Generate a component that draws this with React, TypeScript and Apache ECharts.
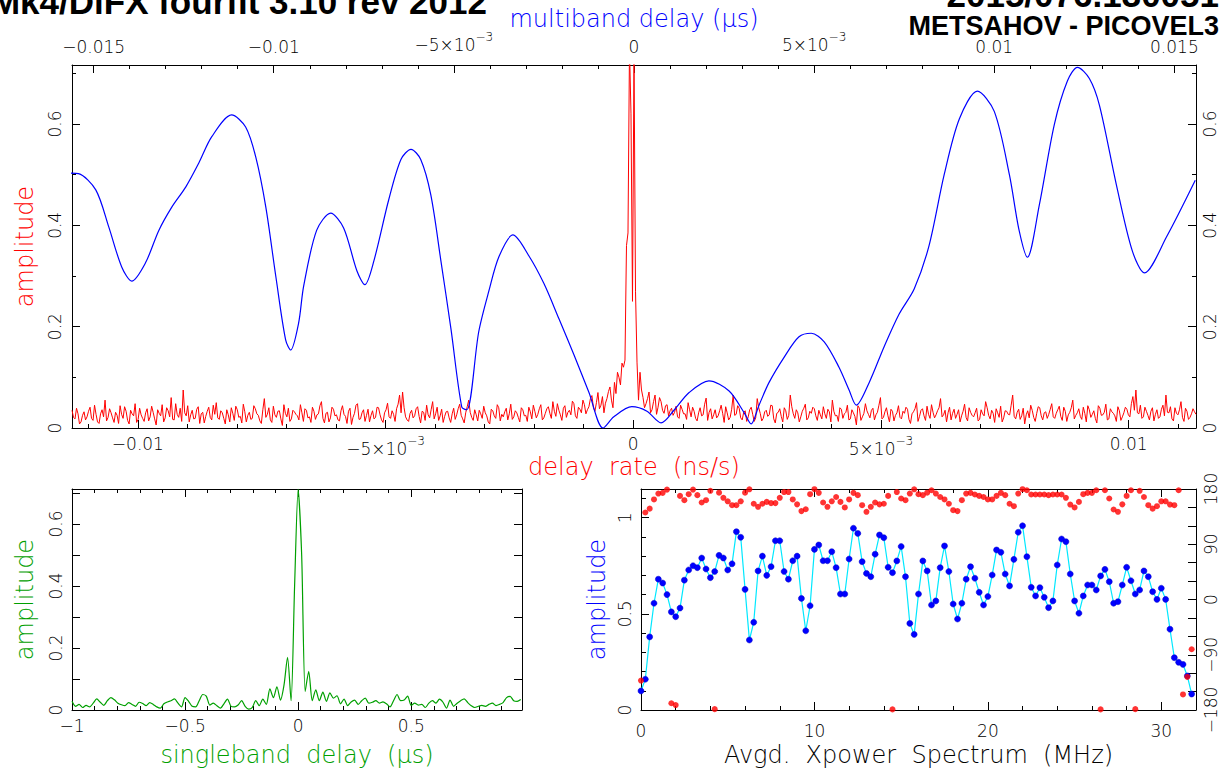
import React, { useEffect, useRef } from "react";
import * as echarts from "echarts";

const FONT = "DejaVu Sans";
const TITLE_FONT = '"Liberation Sans", Arial, sans-serif';
const RED = "#ff0000";
const BLUE = "#0000ff";
const GREEN = "#00a000";
const CYAN = "#00e8ff";
const LABEL_WEIGHT = 200;

const titleLeft = "Mk4/DiFX fourfit 3.10 rev 2012";
const titleRight1 = "2015/076.130051";
const titleRight2 = "METSAHOV - PICOVEL3";

// ---- top panel ranges ----
const RATE_MIN = -0.01133;
const RATE_MAX = 0.01136;
const MBD_MIN = -0.0156;
const MBD_MAX = 0.0156;
const TOP_AMP_MAX = 0.7165;

const rateLabels = [-0.01, -0.005, 0, 0.005, 0.01];
const mbdLabels = [-0.015, -0.01, -0.005, 0, 0.005, 0.01, 0.015];
const ampLabels = [0, 0.2, 0.4, 0.6];

// multiband delay (us) vs amplitude (blue)
const mbdDelay = [
  -0.01564, -0.01542, -0.01494, -0.01458, -0.01422, -0.01394, -0.01356, -0.01319, -0.01283, -0.01244,
  -0.01208, -0.01172, -0.01117, -0.01078, -0.0105, -0.01022, -0.00994, -0.00967, -0.00953, -0.00931,
  -0.00917, -0.00881, -0.00842, -0.00806, -0.00769, -0.00747, -0.00722, -0.00681, -0.00647, -0.00619,
  -0.00592, -0.00564, -0.00536, -0.00508, -0.00478, -0.00464, -0.00431, -0.00403, -0.00375, -0.00336,
  -0.00292, -0.0025, -0.00208, -0.00167, -0.00125, -0.00086, -0.00056, -0.00006, 0.00036, 0.00075,
  0.00111, 0.00153, 0.00208, 0.00264, 0.00306, 0.00325, 0.00347, 0.00375, 0.00417, 0.00458,
  0.00492, 0.00528, 0.00569, 0.00597, 0.00617, 0.00653, 0.00694, 0.00736, 0.00778, 0.00819,
  0.00861, 0.00903, 0.00953, 0.01, 0.01042, 0.01069, 0.01092, 0.01125, 0.01167, 0.01203,
  0.01231, 0.01264, 0.01292, 0.01339, 0.01383, 0.01417, 0.01478, 0.01558,
];
const mbdAmp = [
  0.503, 0.502, 0.47, 0.397, 0.318, 0.29, 0.326, 0.39, 0.436, 0.476,
  0.523, 0.575, 0.618, 0.594, 0.535, 0.436, 0.298, 0.174, 0.154, 0.207,
  0.28, 0.39, 0.424, 0.395, 0.31, 0.283, 0.33, 0.45, 0.53, 0.55,
  0.53, 0.46, 0.33, 0.195, 0.041, 0.036, 0.19, 0.27, 0.338, 0.381,
  0.34, 0.285, 0.215, 0.145, 0.07, 0.0, 0.022, 0.042, 0.033, 0.01,
  0.035, 0.07, 0.093, 0.073, 0.03, 0.008, 0.045, 0.09, 0.14, 0.18,
  0.187, 0.17, 0.12, 0.075, 0.045, 0.09, 0.16, 0.225, 0.275, 0.36,
  0.5, 0.61, 0.665, 0.625, 0.5, 0.39, 0.337, 0.44, 0.6, 0.685,
  0.712, 0.69, 0.637, 0.48, 0.35, 0.306, 0.377, 0.489,
];

// delay rate amplitude (red): samples on an even grid from RATE_MIN to RATE_MAX
const rateAmp = [
  0.035, 0.018, 0.028, 0.012, 0.032, 0.022, 0.041, 0.015, 0.027, 0.009, 0.036, 0.055, 0.021, 0.030, 0.011, 0.025, 0.044, 0.019, 0.033, 0.008, 0.028, 0.048, 0.017, 0.026, 0.013,
  0.038, 0.022, 0.031, 0.006, 0.029, 0.046, 0.020, 0.034, 0.060, 0.016, 0.027, 0.039, 0.075, 0.024, 0.012, 0.035, 0.019, 0.042, 0.028, 0.010, 0.033, 0.021, 0.045, 0.050, 0.017,
  0.030, 0.008, 0.026, 0.040, 0.015, 0.036, 0.023, 0.047, 0.012, 0.031, 0.019, 0.038, 0.025, 0.009, 0.058, 0.027, 0.016, 0.043, 0.021, 0.034, 0.005, 0.029, 0.039, 0.018, 0.032,
  0.024, 0.046, 0.013, 0.035, 0.022, 0.041, 0.017, 0.028, 0.052, 0.010, 0.031, 0.020, 0.037, 0.026, 0.014, 0.044, 0.023, 0.033, 0.007, 0.029, 0.048, 0.018, 0.036, 0.025, 0.012,
  0.034, 0.021, 0.040, 0.016, 0.030, 0.049, 0.019, 0.027, 0.038, 0.065, 0.071, 0.022, 0.013, 0.035, 0.024, 0.042, 0.010, 0.031, 0.045, 0.020, 0.052, 0.028, 0.015, 0.037, 0.023,
  0.033, 0.011, 0.039, 0.026, 0.047, 0.018, 0.030, 0.055, 0.021, 0.036, 0.014, 0.028, 0.043, 0.024, 0.008, 0.034, 0.019, 0.040, 0.027, 0.032, 0.016, 0.047, 0.022, 0.030, 0.012,
  0.036, 0.025, 0.041, 0.018, 0.033, 0.027, 0.046, 0.020, 0.038, 0.029, 0.052, 0.023, 0.035, 0.015, 0.044, 0.031, 0.026, 0.048, 0.019, 0.037, 0.055, 0.028, 0.042, 0.064, 0.033,
  0.070, 0.045, 0.030, 0.058, 0.081, 0.040, 0.068, 0.100, 0.128, 0.134, 0.385, 0.620, 0.740, 0.130, 0.110, 0.060, 0.048, 0.071, 0.036, 0.065, 0.041, 0.052, 0.029, 0.046, 0.034,
  0.025, 0.043, 0.019, 0.037, 0.028, 0.050, 0.022, 0.033, 0.014, 0.040, 0.026, 0.059, 0.031, 0.018, 0.036, 0.024, 0.045, 0.011, 0.030, 0.021, 0.065, 0.027, 0.039, 0.016, 0.034,
  0.022, 0.041, 0.013, 0.058, 0.029, 0.019, 0.035, 0.026, 0.044, 0.010, 0.031, 0.023, 0.040, 0.017, 0.065, 0.028, 0.036, 0.012, 0.033, 0.047, 0.020, 0.029, 0.038, 0.015, 0.026,
  0.042, 0.019, 0.032, 0.055, 0.024, 0.013, 0.037, 0.028, 0.045, 0.018, 0.030, 0.006, 0.039, 0.022, 0.048, 0.027, 0.035, 0.016, 0.031, 0.060, 0.021, 0.040, 0.012, 0.033, 0.025,
  0.044, 0.018, 0.029, 0.037, 0.009, 0.032, 0.050, 0.023, 0.038, 0.015, 0.027, 0.046, 0.020, 0.034, 0.058, 0.026, 0.012, 0.041, 0.029, 0.019, 0.036, 0.024, 0.047, 0.014, 0.031,
  0.022, 0.039, 0.017, 0.028, 0.052, 0.025, 0.035, 0.011, 0.030, 0.043, 0.020, 0.033, 0.026, 0.065, 0.018, 0.037, 0.024, 0.008, 0.034, 0.045, 0.021, 0.029, 0.040, 0.016, 0.032,
  0.027, 0.048, 0.019, 0.036, 0.023, 0.041, 0.013, 0.031, 0.055, 0.025, 0.038, 0.017, 0.029, 0.044, 0.021, 0.034, 0.010, 0.039, 0.026, 0.047, 0.018, 0.032, 0.024, 0.042, 0.015,
  0.030, 0.037, 0.022, 0.062, 0.075, 0.028, 0.019, 0.041, 0.025, 0.033, 0.014, 0.036, 0.022, 0.045, 0.065, 0.030, 0.018, 0.040, 0.026, 0.052, 0.013, 0.033, 0.021, 0.038, 0.027,
];
// delay rate amplitude (red): the samples lying halfway between those above
const rateAmpMid = [
  0.021, 0.039, 0.008, 0.025, 0.016, 0.033, 0.019, 0.045, 0.012, 0.028, 0.022, 0.014, 0.038, 0.020, 0.031, 0.009, 0.027, 0.042, 0.015, 0.035, 0.024, 0.011, 0.039, 0.019, 0.030,
  0.014, 0.043, 0.018, 0.036, 0.024, 0.012, 0.040, 0.022, 0.017, 0.048, 0.021, 0.013, 0.030, 0.044, 0.026, 0.018, 0.037, 0.009, 0.031, 0.023, 0.041, 0.016, 0.027, 0.020, 0.034,
  0.019, 0.036, 0.012, 0.029, 0.043, 0.021, 0.010, 0.032, 0.025, 0.017, 0.044, 0.028, 0.014, 0.036, 0.021, 0.040, 0.011, 0.026, 0.033, 0.018, 0.046, 0.022, 0.013, 0.035, 0.027,
  0.016, 0.030, 0.038, 0.020, 0.011, 0.033, 0.026, 0.044, 0.019, 0.029, 0.012, 0.041, 0.024, 0.016, 0.034, 0.027, 0.009, 0.039, 0.021, 0.045, 0.017, 0.030, 0.013, 0.037, 0.025,
  0.018, 0.041, 0.026, 0.011, 0.036, 0.022, 0.034, 0.013, 0.047, 0.030, 0.040, 0.016, 0.029, 0.020, 0.038, 0.023, 0.033, 0.015, 0.026, 0.036, 0.018, 0.041, 0.024, 0.011, 0.032,
  0.020, 0.028, 0.017, 0.038, 0.025, 0.010, 0.042, 0.031, 0.015, 0.026, 0.035, 0.019, 0.030, 0.012, 0.037, 0.024, 0.046, 0.014, 0.022, 0.039, 0.028, 0.017, 0.034, 0.021, 0.040,
  0.024, 0.013, 0.032, 0.045, 0.020, 0.038, 0.016, 0.029, 0.042, 0.019, 0.033, 0.048, 0.026, 0.039, 0.021, 0.035, 0.053, 0.024, 0.041, 0.030, 0.046, 0.036, 0.058, 0.040, 0.050,
  0.038, 0.062, 0.049, 0.072, 0.055, 0.090, 0.110, 0.085, 0.120, 0.360, 0.750, 0.250, 0.270, 0.055, 0.075, 0.040, 0.058, 0.030, 0.052, 0.027, 0.060, 0.035, 0.044, 0.024, 0.039,
  0.031, 0.022, 0.045, 0.028, 0.017, 0.036, 0.041, 0.019, 0.030, 0.024, 0.047, 0.015, 0.038, 0.026, 0.020, 0.034, 0.029, 0.042, 0.016, 0.037, 0.025, 0.044, 0.020, 0.031, 0.013,
  0.036, 0.027, 0.020, 0.040, 0.014, 0.032, 0.023, 0.045, 0.018, 0.029, 0.038, 0.012, 0.034, 0.025, 0.042, 0.019, 0.030, 0.022, 0.039, 0.016, 0.033, 0.041, 0.024, 0.035, 0.018,
  0.028, 0.037, 0.012, 0.033, 0.025, 0.040, 0.019, 0.031, 0.016, 0.036, 0.023, 0.044, 0.015, 0.029, 0.034, 0.020, 0.039, 0.026, 0.045, 0.018, 0.032, 0.024, 0.037, 0.014, 0.030,
  0.021, 0.033, 0.041, 0.017, 0.028, 0.038, 0.013, 0.035, 0.024, 0.043, 0.019, 0.031, 0.026, 0.040, 0.022, 0.035, 0.030, 0.016, 0.037, 0.027, 0.012, 0.033, 0.021, 0.040, 0.025,
  0.030, 0.014, 0.036, 0.024, 0.040, 0.018, 0.029, 0.038, 0.021, 0.012, 0.034, 0.027, 0.045, 0.023, 0.031, 0.017, 0.039, 0.026, 0.020, 0.035, 0.013, 0.042, 0.024, 0.030, 0.019,
  0.037, 0.022, 0.029, 0.043, 0.015, 0.033, 0.026, 0.040, 0.018, 0.030, 0.023, 0.041, 0.012, 0.036, 0.027, 0.019, 0.044, 0.025, 0.031, 0.016, 0.038, 0.029, 0.013, 0.034, 0.022,
  0.041, 0.026, 0.048, 0.035, 0.030, 0.045, 0.022, 0.033, 0.016, 0.040, 0.027, 0.019, 0.037, 0.024, 0.031, 0.042, 0.014, 0.029, 0.036, 0.021, 0.039, 0.017, 0.028, 0.032,
];

// ---- singleband delay panel ----
const SBD_MIN = -1;
const SBD_MAX = 0.99;
const SBD_STEP = 1 / 64;
const SBD_AMP_MAX = 0.713;
const sbdLabels = [-1, -0.5, 0, 0.5];
const sbdAmp = [
  0.028, 0.012, 0.018, 0.008, 0.015, 0.010, 0.022, 0.036, 0.025, 0.015, 0.030, 0.040, 0.033, 0.022, 0.017, 0.014,
  0.024, 0.018, 0.012, 0.025, 0.021, 0.014, 0.024, 0.018, 0.010, 0.006, 0.020, 0.026, 0.030, 0.036, 0.022, 0.010,
  0.040, 0.028, 0.012, 0.010, 0.030, 0.050, 0.045, 0.016, 0.022, 0.014, 0.006, 0.020, 0.035, 0.012, 0.010, 0.016,
  0.030, 0.012, 0.003, 0.008, 0.030, 0.014, 0.035, 0.018, 0.068, 0.040, 0.075, 0.032, 0.080, 0.170, 0.030, 0.400,
  0.712, 0.500, 0.060, 0.125, 0.030, 0.065, 0.030, 0.058, 0.028, 0.055, 0.038, 0.046, 0.020, 0.035, 0.014, 0.026,
  0.032, 0.018, 0.030, 0.038, 0.022, 0.025, 0.030, 0.022, 0.026, 0.020, 0.010, 0.030, 0.050, 0.030, 0.032, 0.045,
  0.015, 0.022, 0.016, 0.018, 0.008, 0.022, 0.030, 0.022, 0.035, 0.025, 0.006, 0.032, 0.012, 0.022, 0.030, 0.036,
  0.024, 0.014, 0.008, 0.012, 0.015, 0.012, 0.018, 0.022, 0.014, 0.018, 0.024, 0.040, 0.044, 0.030, 0.028, 0.034,
];

// ---- cross power spectrum panel ----
const XP_MAX = 32;
const XP_STEP = 0.25;
const XP_AMP_MAX = 1.149;
const xpLabels = [0, 10, 20, 30];
const xpAmpLabels = [0, 0.5, 1];
const phaseLabels = [-180, -90, 0, 90, 180];
const xpAmp = [
  0.099, 0.16, 0.38, 0.555, 0.68, 0.66, 0.60, 0.51, 0.485, 0.53,
  0.675, 0.728, 0.75, 0.74, 0.79, 0.733, 0.688, 0.72, 0.804, 0.79,
  0.728, 0.76, 0.927, 0.898, 0.627, 0.364, 0.456, 0.723, 0.80, 0.70,
  0.745, 0.88, 0.88, 0.72, 0.68, 0.776, 0.80, 0.58, 0.412, 0.542,
  0.835, 0.858, 0.776, 0.776, 0.823, 0.74, 0.603, 0.603, 0.785, 0.945,
  0.918, 0.771, 0.71, 0.693, 0.81, 0.91, 0.896, 0.742, 0.714, 0.775,
  0.85, 0.693, 0.45, 0.393, 0.603, 0.775, 0.723, 0.546, 0.567, 0.74,
  0.853, 0.72, 0.551, 0.473, 0.555, 0.68, 0.745, 0.685, 0.612, 0.546,
  0.59, 0.702, 0.832, 0.82, 0.707, 0.645, 0.783, 0.924, 0.958, 0.797,
  0.638, 0.593, 0.636, 0.586, 0.532, 0.567, 0.754, 0.889, 0.875, 0.707,
  0.567, 0.503, 0.593, 0.65, 0.65, 0.624, 0.697, 0.731, 0.667, 0.555,
  0.563, 0.65, 0.742, 0.672, 0.603, 0.624, 0.723, 0.693, 0.615, 0.575,
  0.633, 0.575, 0.42, 0.272, 0.248, 0.237, 0.177, 0.083,
];
const xpPhase = [
  -132, 141.7, 148, 163, 172.6, 173.7, 179, -169, -172, 168.8,
  161.8, 171.5, 179, 170, 158, 161.8, 177, -178.6, 174, 165.6,
  160, 153.6, 153.6, 160, 174, 179.5, 156, 151, 156, 159,
  157, 157, 165.6, 175, 175, 163, 155, 144, 147, 171.5,
  179.7, 173.7, 158, 151, 160, 167, 159, 150, 163, 173.7,
  170, 153.6, 142.8, 151, 158, 155, 156, 168.8, -179, 175,
  164.5, 161.8, 172.6, 179.5, 171.5, 170, 174, 178, 172.6, 167,
  163, 156, 145.5, 144, 161.8, 172.6, 173.7, 171, 168.8, 167,
  163, 163, 168.8, 173.7, 170, 156, 152, 172.6, 179.7, 178,
  171, 171, 171, 171, 170, 171, 171, 171, 165.6, 154.7,
  150, 159, 171.5, 173.7, 173.7, 178, -179, 178, 164.5, 146.6,
  142.8, 155, 168.8, 178, -178.6, 177, 167, 153.6, 148, 152,
  160, 160, 154.7, 153.6, 178, -154.7, -126, -81,
];

function steps(a: number, b: number, step: number): number[] {
  const out: number[] = [];
  const n = Math.round((b - a) / step);
  for (let i = 0; i <= n; i++) out.push(Number((a + i * step).toFixed(6)));
  return out;
}

const MINUS = "\u2212";
function numLabel(v: number): string {
  const r = Math.round(v * 1e6) / 1e6;
  if (r === 0) return "0";
  if (Math.abs(Math.abs(r) - 0.005) < 1e-9) {
    return (r < 0 ? "{m|" + MINUS + "5×10}" : "{m|5×10}") + "{e|" + MINUS + "3}";
  }
  return String(r).replace("-", MINUS);
}

const rich = {
  m: { fontSize: 17, fontFamily: FONT, fontWeight: LABEL_WEIGHT, color: "#000", verticalAlign: "bottom" },
  e: { fontSize: 12, fontFamily: FONT, fontWeight: LABEL_WEIGHT, color: "#000", verticalAlign: "bottom", padding: [0, 0, 10, 0] },
};

type AxOpt = {
  grid: number;
  pos: string;
  min: number;
  max: number;
  ticks: number[];
  tickLen?: number;
  line?: boolean;
  labels?: number[];
  rotate?: number;
  margin?: number;
  labelLineHeight?: number;
  name?: string;
  nameColor?: string;
  nameGap?: number;
};

function axis(p: AxOpt): any {
  return {
    type: "value",
    gridIndex: p.grid,
    position: p.pos,
    min: p.min,
    max: p.max,
    silent: true,
    splitLine: { show: false },
    minorTick: { show: false },
    minorSplitLine: { show: false },
    axisLine: { show: p.line !== false, onZero: false, lineStyle: { color: "#000", width: 1 } },
    axisTick: {
      show: true,
      inside: true,
      length: p.tickLen ?? 8,
      customValues: p.ticks,
      lineStyle: { color: "#000", width: 1 },
    },
    axisLabel: p.labels
      ? {
          show: true,
          customValues: p.labels,
          formatter: (v: number) => numLabel(v),
          rotate: p.rotate ?? 0,
          margin: p.margin ?? 8,
          color: "#000",
          fontSize: 17,
          lineHeight: p.labelLineHeight,
          fontFamily: FONT,
          fontWeight: LABEL_WEIGHT,
          rich,
          hideOverlap: false,
        }
      : { show: false },
    name: p.name,
    nameLocation: "middle",
    nameGap: p.nameGap ?? 0,
    nameMoveOverlap: false,
    nameTextStyle: { color: p.nameColor, fontSize: 24, fontFamily: FONT, fontWeight: LABEL_WEIGHT },
  };
}

export default function App() {
  const ref = useRef<HTMLDivElement>(null);
  useEffect(() => {
    if (!ref.current) return;
    const chart = echarts.init(ref.current, undefined, { renderer: "svg" });

    const rateMinor = steps(-0.011, 0.011, 0.001);
    const mbdMinor = steps(-0.015, 0.015, 0.001);
    const ampMinor = [0.1, 0.3, 0.5, 0.7];
    const sbdMinor = steps(-0.9, 0.9, 0.1);
    const sbdYTicks = steps(0.1, 0.7, 0.1);
    const xpMinor = steps(2, 30, 2);
    const xpAmpMinor = steps(0.1, 1.1, 0.1);
    const phaseTicks = steps(-150, 150, 30);

    const xAxis = [
      // 0-3 top panel
      axis({ grid: 0, pos: "bottom", min: RATE_MIN, max: RATE_MAX, ticks: rateLabels, labels: rateLabels, margin: 7, name: "delay  rate  (ns/s)", nameColor: RED, nameGap: 27 }),
      axis({ grid: 0, pos: "bottom", min: RATE_MIN, max: RATE_MAX, ticks: rateMinor, tickLen: 4, line: false }),
      axis({ grid: 0, pos: "top", min: MBD_MIN, max: MBD_MAX, ticks: mbdLabels, labels: mbdLabels, margin: 12, labelLineHeight: 12, name: "multiband delay (μs)", nameColor: BLUE, nameGap: 34 }),
      axis({ grid: 0, pos: "top", min: MBD_MIN, max: MBD_MAX, ticks: mbdMinor, tickLen: 4, line: false }),
      // 4-7 singleband delay
      axis({ grid: 1, pos: "bottom", min: SBD_MIN, max: SBD_MAX, ticks: sbdLabels, labels: sbdLabels, margin: 7, name: "singleband  delay  (μs)", nameColor: GREEN, nameGap: 33 }),
      axis({ grid: 1, pos: "bottom", min: SBD_MIN, max: SBD_MAX, ticks: sbdMinor, tickLen: 4, line: false }),
      axis({ grid: 1, pos: "top", min: SBD_MIN, max: SBD_MAX, ticks: sbdLabels }),
      axis({ grid: 1, pos: "top", min: SBD_MIN, max: SBD_MAX, ticks: sbdMinor, tickLen: 4, line: false }),
      // 8-11 xpower spectrum
      axis({ grid: 2, pos: "bottom", min: 0, max: XP_MAX, ticks: xpLabels, labels: xpLabels, margin: 12, name: "Avgd.  Xpower  Spectrum  (MHz)", nameColor: "#000", nameGap: 33 }),
      axis({ grid: 2, pos: "bottom", min: 0, max: XP_MAX, ticks: xpMinor, tickLen: 4, line: false }),
      axis({ grid: 2, pos: "top", min: 0, max: XP_MAX, ticks: xpLabels }),
      axis({ grid: 2, pos: "top", min: 0, max: XP_MAX, ticks: xpMinor, tickLen: 4, line: false }),
    ];

    const yAxis = [
      // 0-3 top panel
      axis({ grid: 0, pos: "left", min: 0, max: TOP_AMP_MAX, ticks: ampLabels, labels: ampLabels, rotate: 90, margin: 9, name: "amplitude", nameColor: RED, nameGap: 35 }),
      axis({ grid: 0, pos: "left", min: 0, max: TOP_AMP_MAX, ticks: ampMinor, tickLen: 4, line: false }),
      axis({ grid: 0, pos: "right", min: 0, max: TOP_AMP_MAX, ticks: ampLabels, labels: ampLabels, rotate: 90, margin: 5 }),
      axis({ grid: 0, pos: "right", min: 0, max: TOP_AMP_MAX, ticks: ampMinor, tickLen: 4, line: false }),
      // 4-5 singleband delay
      axis({ grid: 1, pos: "left", min: 0, max: SBD_AMP_MAX, ticks: sbdYTicks, labels: ampLabels, rotate: 90, margin: 8, name: "amplitude", nameColor: GREEN, nameGap: 35 }),
      axis({ grid: 1, pos: "right", min: 0, max: SBD_AMP_MAX, ticks: sbdYTicks }),
      // 6-9 xpower spectrum
      axis({ grid: 2, pos: "left", min: 0, max: XP_AMP_MAX, ticks: xpAmpLabels, labels: xpAmpLabels, rotate: 90, margin: 8, name: "amplitude", nameColor: BLUE, nameGap: 32 }),
      axis({ grid: 2, pos: "left", min: 0, max: XP_AMP_MAX, ticks: xpAmpMinor, tickLen: 5, line: false }),
      axis({ grid: 2, pos: "right", min: -180, max: 180, ticks: phaseLabels, labels: phaseLabels, rotate: 90, margin: 6 }),
      axis({ grid: 2, pos: "right", min: -180, max: 180, ticks: phaseTicks, tickLen: 8, line: false }),
    ];

    const rateStep = (RATE_MAX - RATE_MIN) / (rateAmp.length - 1);
    const rateData: number[][] = [];
    rateAmp.forEach((v, i) => {
      rateData.push([RATE_MIN + i * rateStep, v]);
      if (i < rateAmpMid.length) rateData.push([RATE_MIN + (i + 0.5) * rateStep, rateAmpMid[i]]);
    });

    const option: any = {
      animation: false,
      backgroundColor: "#fff",
      textStyle: { fontFamily: FONT },
      grid: [
        { left: 72, top: 65, width: 1124, height: 363 },
        { left: 72, top: 489, width: 450, height: 221 },
        { left: 641, top: 489, width: 555, height: 221 },
      ],
      xAxis,
      yAxis,
      graphic: [
        { type: "text", x: 487, y: 19, silent: true, style: { text: titleLeft, fill: "#000", font: "bold 35px " + TITLE_FONT, textAlign: "right", textVerticalAlign: "bottom", align: "right", verticalAlign: "bottom" } },
        { type: "text", x: 1219, y: -6, silent: true, style: { text: titleRight1, fill: "#000", font: "bold 35px " + TITLE_FONT, lineHeight: 24, textAlign: "right", textVerticalAlign: "middle", align: "right", verticalAlign: "middle" } },
        { type: "text", x: 1219, y: 25.5, silent: true, style: { text: titleRight2, fill: "#000", font: "bold 27px " + TITLE_FONT, lineHeight: 19, textAlign: "right", textVerticalAlign: "middle", align: "right", verticalAlign: "middle" } },
      ],
      series: [
        {
          type: "line",
          name: "delay rate",
          xAxisIndex: 0,
          yAxisIndex: 0,
          data: rateData,
          showSymbol: false,
          symbol: "none",
          lineStyle: { color: RED, width: 1 },
          clip: true,
          z: 2,
        },
        {
          type: "line",
          name: "multiband delay",
          xAxisIndex: 2,
          yAxisIndex: 0,
          data: mbdDelay.map((d, i) => [d, mbdAmp[i]]),
          showSymbol: false,
          symbol: "none",
          smooth: 0.3,
          lineStyle: { color: BLUE, width: 1.2 },
          clip: true,
          z: 3,
        },
        {
          type: "line",
          name: "singleband delay",
          xAxisIndex: 4,
          yAxisIndex: 4,
          data: sbdAmp.map((v, i) => [SBD_MIN + i * SBD_STEP, v]),
          showSymbol: false,
          symbol: "none",
          smooth: 0.25,
          lineStyle: { color: GREEN, width: 1.2 },
          clip: true,
        },
        {
          type: "line",
          name: "xpower amplitude",
          xAxisIndex: 8,
          yAxisIndex: 6,
          data: xpAmp.map((v, i) => [i * XP_STEP, v]),
          symbol: "circle",
          symbolSize: 6,
          showSymbol: true,
          itemStyle: { color: BLUE, borderColor: "#0000c8", borderWidth: 0.5 },
          lineStyle: { color: CYAN, width: 1.2 },
          clip: false,
          z: 3,
        },
        {
          type: "scatter",
          name: "xpower phase",
          xAxisIndex: 8,
          yAxisIndex: 8,
          data: xpPhase.map((v, i) => [i * XP_STEP, v]),
          symbol: "circle",
          symbolSize: 6,
          itemStyle: { color: RED },
          clip: false,
          z: 4,
        },
      ],
    };
    chart.setOption(option);
    return () => chart.dispose();
  }, []);

  return (
    <div
      ref={ref}
      style={{ position: "fixed", left: 0, top: 0, width: 1223, height: 771, background: "#fff" }}
    />
  );
}
